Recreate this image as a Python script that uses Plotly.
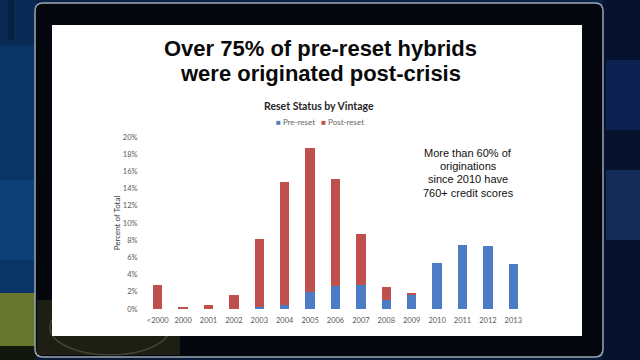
import plotly.graph_objects as go

# ---- data ----
vintages = ["<2000", "2000", "2001", "2002", "2003", "2004", "2005", "2006",
            "2007", "2008", "2009", "2010", "2011", "2012", "2013"]
pre_reset = [0.0, 0.0, 0.0, 0.0, 0.2, 0.5, 2.0, 2.7, 2.8, 1.0, 1.7, 5.4, 7.4, 7.3, 5.2]
post_reset = [2.8, 0.25, 0.45, 1.6, 7.9, 14.3, 16.7, 12.4, 5.9, 1.6, 0.1, 0.0, 0.0, 0.0, 0.0]
y_ticks = [0, 2, 4, 6, 8, 10, 12, 14, 16, 18, 20]
y_tick_labels = [f"{v}%" for v in y_ticks]

title_lines = ["Over 75% of pre-reset hybrids", "were originated post-crisis"]
note_lines = ["More than 60% of", "originations", "since 2010 have", "760+ credit scores"]

BLUE = "#4c7cc3"
RED = "#c0504d"

# ---- geometry helpers (pixel -> paper) ----
W, H = 640, 360
ML, MR, MT, MB = 145, 114, 137, 51
PW, PH = W - ML - MR, H - MT - MB


def px(x):
    return (x - ML) / PW


def py(y):
    return (H - MB - y) / PH


fig = go.Figure()
fig.add_trace(go.Bar(x=vintages, y=pre_reset, name="Pre-reset",
                     marker=dict(color=BLUE, line=dict(width=0)), showlegend=False))
fig.add_trace(go.Bar(x=vintages, y=post_reset, name="Post-reset",
                     marker=dict(color=RED, line=dict(width=0)), showlegend=False))

shapes = []


def rect(x0, y0, x1, y1, fill, line=None, lw=0, layer="below"):
    shapes.append(dict(type="rect", xref="paper", yref="paper",
                       x0=px(x0), x1=px(x1), y0=py(y1), y1=py(y0),
                       fillcolor=fill, line=dict(color=line or "rgba(0,0,0,0)", width=lw),
                       layer=layer))


# background pieces (photo surroundings)
rect(0, 0, 36, 293, "#0b3466")
rect(0, 0, 36, 45, "#0a2a55")
rect(8, 0, 14, 40, "#062040")
rect(0, 180, 36, 260, "#0e4078")
rect(0, 293, 36, 346, "#66762c")
rect(0, 346, 36, 360, "#12160c")
rect(603, 0, 640, 360, "#07132e")
rect(606, 60, 640, 130, "rgba(30,70,160,0.3)")
rect(606, 170, 640, 240, "rgba(50,100,180,0.3)")
rect(36, 0, 603, 4, "#0a2246")

# dark frame with rounded corners
r = 8
x0, y0, x1, y1 = 35, 3, 603, 357
path = (f"M {px(x0 + r)},{py(y0)} L {px(x1 - r)},{py(y0)} "
        f"Q {px(x1)},{py(y0)} {px(x1)},{py(y0 + r)} L {px(x1)},{py(y1 - r)} "
        f"Q {px(x1)},{py(y1)} {px(x1 - r)},{py(y1)} L {px(x0 + r)},{py(y1)} "
        f"Q {px(x0)},{py(y1)} {px(x0)},{py(y1 - r)} L {px(x0)},{py(y0 + r)} "
        f"Q {px(x0)},{py(y0)} {px(x0 + r)},{py(y0)} Z")
shapes.append(dict(type="path", xref="paper", yref="paper", path=path,
                   fillcolor="#04070d", line=dict(color="#9aa6b2", width=1.5), layer="below"))
rect(37, 300, 180, 355, "rgba(60,62,30,0.45)")
shapes.append(dict(type="circle", xref="paper", yref="paper",
                   x0=px(50), x1=px(170), y0=py(355), y1=py(300),
                   line=dict(color="rgba(140,140,110,0.35)", width=1.5),
                   fillcolor="rgba(0,0,0,0)", layer="below"))
# white slide
rect(52, 25, 582, 336, "#ffffff")

annotations = []
# slide title
for i, t in enumerate(title_lines):
    annotations.append(dict(text=f"<b>{t}</b>", x=px(320), y=py(48 + 25 * i),
                            xref="paper", yref="paper", showarrow=False,
                            xanchor="center", yanchor="middle",
                            font=dict(family="Liberation Sans, Arial", size=22, color="#0a0a0a")))
# chart title
annotations.append(dict(text="<b>Reset Status by Vintage</b>", x=px(319), y=py(106),
                        xref="paper", yref="paper", showarrow=False,
                        xanchor="center", yanchor="middle",
                        font=dict(family="Lato", size=10.5, color="#262626")))
# legend (compact, as in the source)
annotations.append(dict(
    text=(f"<span style='color:{BLUE}'>■</span> Pre-reset   "
          f"<span style='color:{RED}'>■</span> Post-reset"),
    x=px(320), y=py(122), xref="paper", yref="paper", showarrow=False,
    xanchor="center", yanchor="middle",
    font=dict(family="Lato", size=8, color="#666666")))
# note
for i, t in enumerate(note_lines):
    annotations.append(dict(text=t, x=px(468), y=py(153 + 13.2 * i),
                            xref="paper", yref="paper", showarrow=False,
                            xanchor="center", yanchor="middle",
                            font=dict(family="Liberation Sans, Arial", size=11, color="#111111")))

fig.update_layout(
    width=W, height=H,
    margin=dict(l=ML, r=MR, t=MT, b=MB),
    paper_bgcolor="#081c3a",
    plot_bgcolor="rgba(0,0,0,0)",
    barmode="stack",
    bargap=0.63,
    shapes=shapes,
    annotations=annotations,
    xaxis=dict(showgrid=False, zeroline=False, showline=False,
               ticks="outside", ticklen=4, tickcolor="rgba(0,0,0,0)",
               tickfont=dict(family="Lato", size=7.5, color="#595959")),
    yaxis=dict(range=[0, 20], tickmode="array", tickvals=y_ticks, ticktext=y_tick_labels,
               showgrid=False, zeroline=False, showline=False,
               ticks="outside", ticklen=5, tickcolor="rgba(0,0,0,0)",
               tickfont=dict(family="Lato", size=7.5, color="#595959"),
               title=dict(text="Percent of Total", standoff=0,
                          font=dict(family="Lato", size=8, color="#404040"))),
)

fig.write_html("out.html")
